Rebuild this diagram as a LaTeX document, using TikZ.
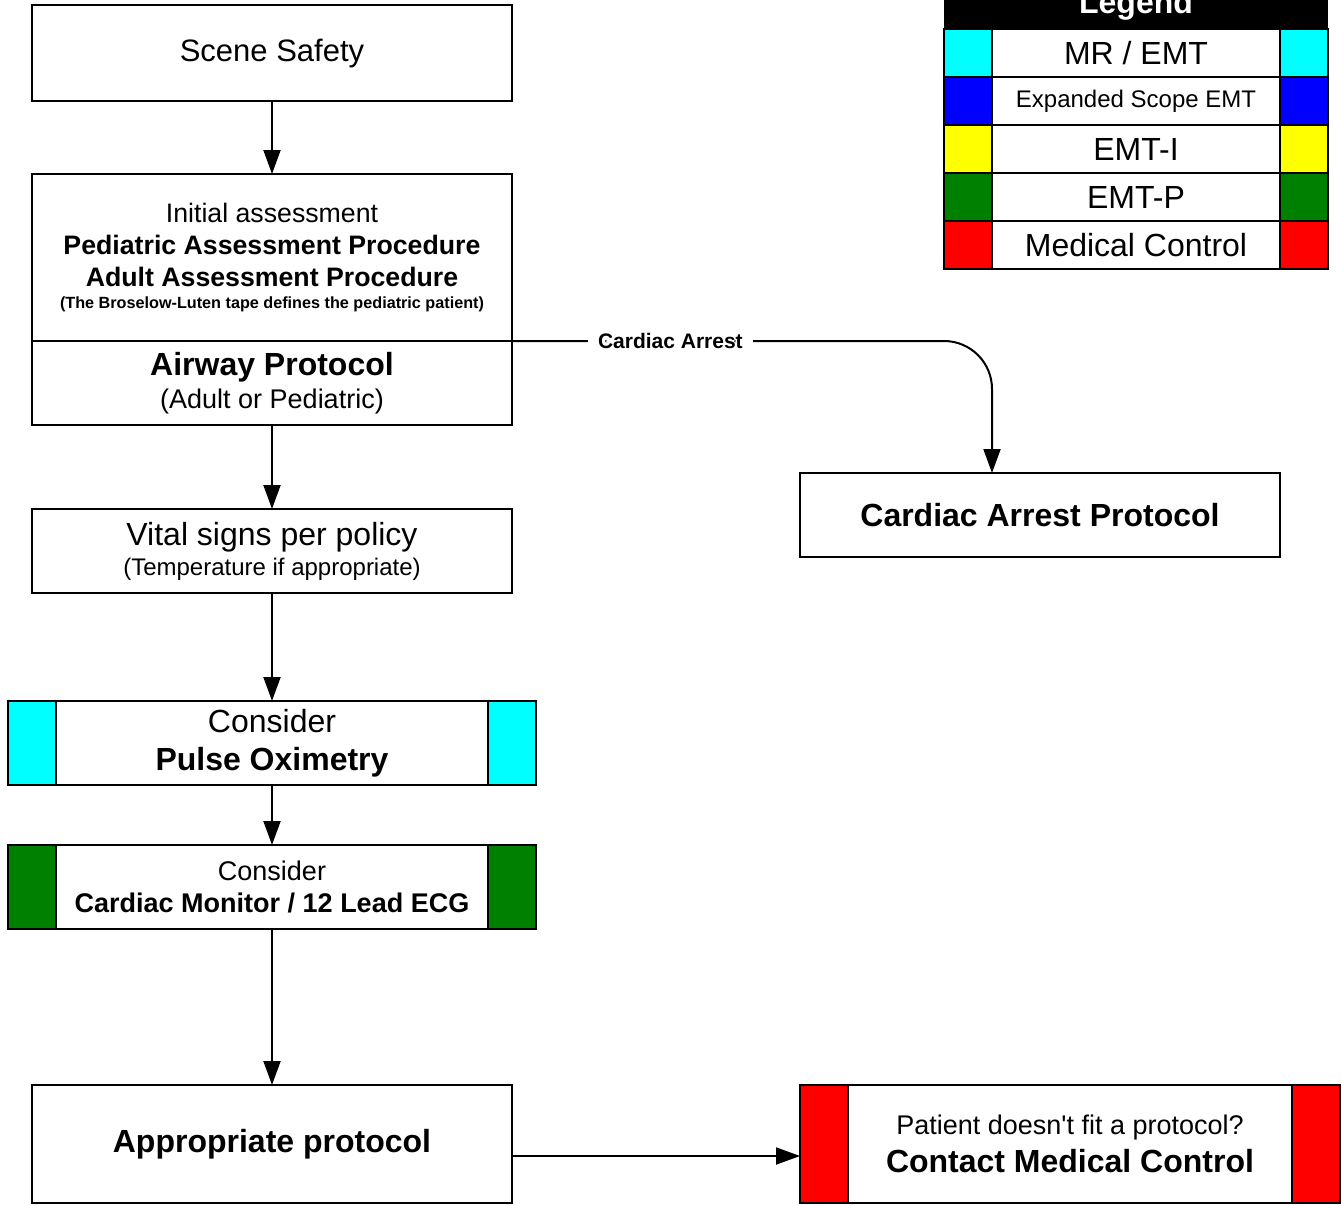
\documentclass[tikz,border=0pt]{standalone}
\usepackage{fontspec}
\setmainfont{Liberation Sans}
\usetikzlibrary{arrows.meta}
\definecolor{mrcyan}{RGB}{0,255,255}
\definecolor{escblue}{RGB}{0,0,255}
\definecolor{emtiyellow}{RGB}{255,255,0}
\definecolor{emtpgreen}{RGB}{0,128,0}
\definecolor{mcred}{RGB}{255,0,0}
\newcommand{\fs}[2]{\fontsize{#1}{#2}\selectfont}

\begin{document}
\begin{tikzpicture}[x=1pt,y=1pt,
	box/.style={draw, line width=2pt, fill=white, inner sep=0pt, outer sep=0pt, minimum width=480pt, align=center},
	flow/.style={-{Triangle[length=24pt,width=17pt]}, line width=2pt},
	bar/.style={draw, line width=2pt}]
		\path[use as bounding box, fill=white] (0,0) rectangle (1342,-1205);
		
		\node[box, minimum height=96pt, font=\fs{31}{36}] (scene) at (272,-53) {Scene Safety};
		\node[box, minimum height=168pt, font=\fs{26.7}{32}] (assess) at (272,-258) {Initial assessment\\ \textbf{Pediatric Assessment Procedure}\\ \textbf{Adult Assessment Procedure}\\[-10pt] {\fs{16.2}{18}\bfseries (The Broselow-Luten tape defines the pediatric patient)}};
		\node[box, minimum height=84pt, font=\fs{27}{33}] (airway) at (272,-383) {{\fs{32}{33}\bfseries Airway Protocol}\\ (Adult or Pediatric)};
		\node[box, minimum height=84pt, font=\fs{24}{30}] (vital) at (272,-551) {{\fs{32}{30}Vital signs per policy}\\ (Temperature if appropriate)};
		\node[box, minimum width=528pt, minimum height=84pt, font=\fs{32}{38}] (pulse) at (272,-743) {Consider\\ \textbf{Pulse Oximetry}};
		\node[box, minimum width=528pt, minimum height=84pt, font=\fs{27}{32}] (monitor) at (272,-887) {Consider\\ \textbf{Cardiac Monitor / 12 Lead ECG}};
		\node[box, minimum height=118pt, font=\fs{32}{38}\bfseries] (approp) at (272,-1144) {Appropriate protocol};
		\node[box, minimum height=84pt, font=\fs{32}{38}\bfseries] (carp) at (1040,-515) {Cardiac Arrest Protocol};
		\node[box, minimum width=540pt, minimum height=118pt, font=\fs{27}{38}] (contact) at (1070,-1144) {Patient doesn\textquotesingle t fit a protocol?\\ {\fs{32}{38}\bfseries Contact Medical Control}};
		
		% scope colour bars
		\foreach \n/\col in {pulse/mrcyan, monitor/emtpgreen, contact/mcred} {
			\draw[bar, fill=\col] (\n.north west) rectangle ([xshift=48pt]\n.south west);
			\draw[bar, fill=\col] (\n.north east) rectangle ([xshift=-48pt]\n.south east);
		}
		
		\draw[flow] (scene) -- (assess);
		\draw[flow] (airway) -- (vital);
		\draw[flow] (vital) -- (pulse);
		\draw[flow] (pulse) -- (monitor);
		\draw[flow] (monitor) -- (approp);
		\draw[flow] ([yshift=-12pt]approp.east) -- ([yshift=-12pt]contact.west);
		\draw[flow, rounded corners=48pt] (airway.north east) -| node[pos=0.165, fill=white, inner xsep=10pt, inner ysep=3pt, font=\fs{21}{24}\bfseries] (arrestlbl) {Cardiac Arrest} ([xshift=-48pt]carp.north);
		
		% legend
		\node[fill=black, minimum width=384pt, minimum height=48pt, inner sep=0pt, text=white, font=\fs{32}{38}\bfseries] (legend) at (1136,-5) {Legend};
		\foreach \col/\txt/\sz [count=\i] in {mrcyan/{MR / EMT}/32, escblue/{Expanded Scope EMT}/24, emtiyellow/EMT-I/32, emtpgreen/EMT-P/32, mcred/{Medical Control}/32} {
			\node[box, minimum width=384pt, minimum height=48pt, font=\fs{\sz}{38}] (leg\i) at (1136,-5-48*\i) {\txt};
			\draw[bar, fill=\col] (leg\i.north west) rectangle ([xshift=48pt]leg\i.south west);
			\draw[bar, fill=\col] (leg\i.north east) rectangle ([xshift=-48pt]leg\i.south east);
		}
	\end{tikzpicture}
\end{document}
